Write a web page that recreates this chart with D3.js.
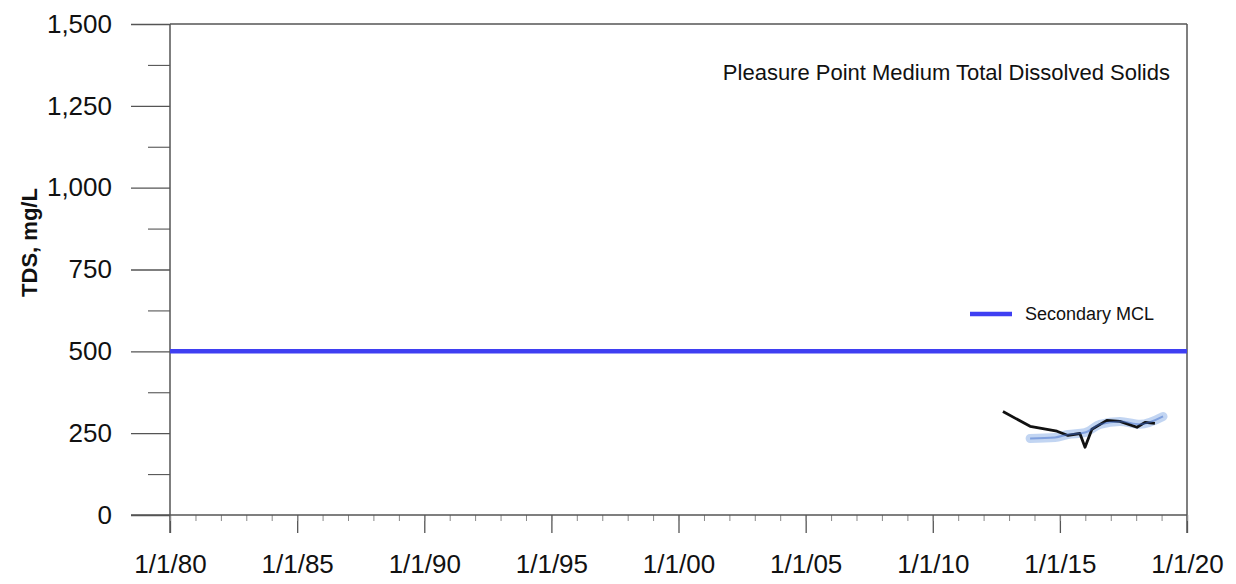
<!DOCTYPE html>
<html><head><meta charset="utf-8">
<script src="https://cdn.jsdelivr.net/npm/d3@7"></script>
<style>body{margin:0;background:#fff}svg{display:block}text{font-family:"Liberation Sans",Arial,sans-serif;fill:#111}</style>
</head><body><svg id="c" width="1236" height="584"></svg>
<script>
const chartTitle = "Pleasure Point Medium Total Dissolved Solids";
const yLabel = "TDS, mg/L";
const legendLabel = "Secondary MCL";
const mclValue = 500;
const xDomain = ["1980-01-01", "2020-01-01"];
const yTicks = [0, 250, 500, 750, 1000, 1250, 1500];
const yMinorTicks = [125, 375, 625, 875, 1125, 1375];
const tdsDates = ["2012-10-05","2013-10-30","2014-11-20","2015-04-27","2015-10-15","2015-12-28","2016-04-05","2016-11-05","2017-05-12","2018-01-12","2018-05-08","2018-09-27"];
const tdsValues = [316, 271, 256, 243, 249, 207, 262, 289, 286, 268, 283, 280];
const trendDates = ["2013-10-30","2014-10-22","2015-04-27","2015-12-28","2016-07-30","2017-05-12","2018-02-25","2019-01-22"];
const trendValues = [234, 237, 246, 252, 277, 286, 277, 301];

const svg = d3.select("#c");
const L = 170, R = 1187, T = 24, B = 515;
const parse = d3.utcParse("%Y-%m-%d");
const x = d3.scaleUtc().domain(xDomain.map(parse)).range([L, R]);
const y = d3.scaleLinear().domain([0, 1500]).range([B, T]);
const axisCol = "#555";

// frame
svg.append("line").attr("x1", L).attr("x2", R).attr("y1", T).attr("y2", T).attr("stroke", axisCol).attr("stroke-width", 1.5);
svg.append("line").attr("x1", R).attr("x2", R).attr("y1", T).attr("y2", B + 18).attr("stroke", axisCol).attr("stroke-width", 1.5);

// y axis
const ya = svg.append("g").attr("transform", `translate(${L},0)`)
  .call(d3.axisLeft(y).tickValues(yTicks).tickSize(39).tickPadding(19).tickFormat(d3.format(",")));
ya.select(".domain").remove();
ya.selectAll(".tick line").attr("stroke", axisCol).attr("stroke-width", 1.3);
ya.selectAll("text").style("font-size", "26px").style("font-family", "Liberation Sans, Arial").attr("fill", "#111");
const ym = svg.append("g").attr("transform", `translate(${L},0)`)
  .call(d3.axisLeft(y).tickValues(yMinorTicks).tickSize(22).tickFormat(""));
ym.select(".domain").remove();
ym.selectAll(".tick line").attr("stroke", axisCol).attr("stroke-width", 1.1);
svg.append("line").attr("x1", L).attr("x2", L).attr("y1", T).attr("y2", B + 18).attr("stroke", axisCol).attr("stroke-width", 1.5);

// x axis
const xa = svg.append("g").attr("transform", `translate(0,${B})`)
  .call(d3.axisBottom(x).ticks(d3.utcYear.every(5)).tickSize(18).tickPadding(22).tickFormat(d => `1/1/${d3.utcFormat("%y")(d)}`));
xa.select(".domain").remove();
xa.selectAll(".tick line").attr("stroke", axisCol).attr("stroke-width", 1.3);
xa.selectAll("text").style("font-size", "26px").style("font-family", "Liberation Sans, Arial").attr("fill", "#111");
const xm = svg.append("g").attr("transform", `translate(0,${B})`)
  .call(d3.axisBottom(x).ticks(d3.utcYear.every(1)).tickSize(6).tickFormat(""));
xm.select(".domain").remove();
xm.selectAll(".tick line").attr("stroke", "#888").attr("stroke-width", 1);
svg.append("line").attr("x1", L - 39).attr("x2", R).attr("y1", B).attr("y2", B).attr("stroke", axisCol).attr("stroke-width", 1.5);

// y label
svg.append("text").attr("transform", `translate(37,${(T + B) / 2 - 27}) rotate(-90)`)
  .attr("text-anchor", "middle").style("font-size", "22px").style("font-weight", "bold").text(yLabel);

// MCL line
svg.append("line").attr("x1", L).attr("x2", R).attr("y1", y(mclValue)).attr("y2", y(mclValue))
  .attr("stroke", "#3f3ff2").attr("stroke-width", 4.5);

// data
const pts = tdsDates.map((d, i) => [parse(d), tdsValues[i]]);
const tpts = trendDates.map((d, i) => [parse(d), trendValues[i]]);
const line = d3.line().x(d => x(d[0])).y(d => y(d[1]));
const cline = d3.line().x(d => x(d[0])).y(d => y(d[1])).curve(d3.curveMonotoneX);
svg.append("path").attr("d", cline(tpts)).attr("fill", "none").attr("stroke", "#b3cbef").attr("stroke-width", 9).attr("stroke-linecap", "round").attr("opacity", 0.8);
svg.append("path").attr("d", line(pts)).attr("fill", "none").attr("stroke", "#111").attr("stroke-width", 2.8).attr("stroke-linejoin", "round");
svg.append("path").attr("d", cline(tpts)).attr("fill", "none").attr("stroke", "#3d6cc9").attr("stroke-width", 2).attr("opacity", 0.5);

// title
svg.append("text").attr("x", 1170).attr("y", 80).attr("text-anchor", "end").style("font-size", "22px").text(chartTitle);

// legend
svg.append("line").attr("x1", 970).attr("x2", 1012).attr("y1", 314).attr("y2", 314).attr("stroke", "#3f3ff2").attr("stroke-width", 4.5);
svg.append("text").attr("x", 1025).attr("y", 320).style("font-size", "18px").text(legendLabel);
</script></body></html>
